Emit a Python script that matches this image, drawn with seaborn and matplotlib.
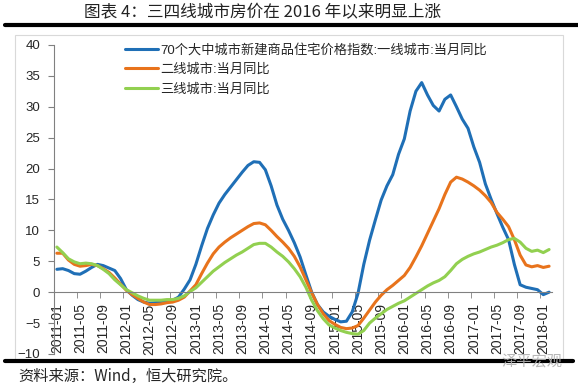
import pandas as pd
import seaborn as sns
import matplotlib.pyplot as plt
from matplotlib.lines import Line2D
from matplotlib.patches import Rectangle

# 2011-01 .. 2018-02
months = pd.date_range('2011-01', '2018-02', freq='MS').strftime('%Y-%m').tolist()

yi_xian = [3.7, 3.8, 3.5, 3.0, 2.9, 3.4, 4.0, 4.5, 4.3, 3.9, 3.5, 2.2,
           0.4, -0.5, -1.2, -1.6, -1.8, -1.7, -1.5, -1.4, -1.3, -0.8, 0.5, 2.0,
           4.5, 7.5, 10.3, 12.5, 14.4, 15.8, 17.0, 18.2, 19.4, 20.5, 21.1, 21.0,
           19.8, 17.2, 14.1, 11.8, 10.0, 8.0, 5.7, 2.8, 0.0, -2.0, -3.2, -3.9,
           -4.4, -4.8, -4.7, -3.2, -0.2, 4.5, 8.4, 11.7, 14.9, 17.2, 19.0, 22.3,
           24.8, 29.3, 32.5, 33.9, 31.9, 30.2, 29.3, 31.2, 31.9, 30.0, 28.0, 26.5,
           23.5, 21.0, 17.5, 15.0, 12.7, 10.5, 8.5, 4.5, 1.2, 0.8, 0.6, 0.4,
           -0.4, 0.0]
er_xian = [6.3, 6.3, 5.2, 4.5, 4.2, 4.3, 4.5, 4.3, 3.8, 3.2, 2.3, 1.3,
           0.3, -0.4, -1.0, -1.6, -2.0, -2.0, -1.9, -1.7, -1.6, -1.3, -0.8, 0.2,
           1.2, 3.0, 4.7, 6.2, 7.3, 8.1, 8.8, 9.4, 10.0, 10.6, 11.1, 11.2,
           10.9, 10.0, 9.0, 8.1, 7.1, 5.8, 4.1, 2.0, -0.1, -2.0, -3.5, -4.6,
           -5.2, -5.7, -5.9, -5.8, -5.4, -4.2, -2.9, -1.6, -0.5, 0.4, 1.1, 1.9,
           2.7, 4.0, 5.7, 7.5, 9.5, 11.5, 13.5, 15.8, 17.8, 18.6, 18.3, 17.8,
           17.2, 16.5, 15.6, 14.5, 12.9, 11.8, 10.6, 8.5, 6.0, 4.4, 4.1, 4.3,
           4.0, 4.2]
san_xian = [7.3, 6.4, 5.4, 4.9, 4.6, 4.7, 4.6, 4.3, 3.7, 3.0, 2.0, 1.2,
            0.4, -0.1, -0.6, -1.0, -1.3, -1.3, -1.3, -1.2, -1.2, -1.0, -0.6, 0.1,
            0.7, 1.6, 2.5, 3.4, 4.1, 4.8, 5.4, 6.0, 6.5, 7.1, 7.7, 7.9,
            7.9, 7.3, 6.5, 5.8, 4.9, 3.8, 2.5, 0.8, -1.3, -3.0, -4.3, -5.3,
            -5.8, -6.2, -6.5, -6.7, -6.8, -6.2, -5.0, -4.2, -3.5, -2.8, -2.3, -1.8,
            -1.4, -0.8, -0.2, 0.4, 1.0, 1.5, 1.9, 2.5, 3.5, 4.6, 5.3, 5.8,
            6.2, 6.5, 6.9, 7.3, 7.6, 8.0, 8.5, 8.7, 8.1, 7.1, 6.6, 6.8,
            6.4, 6.9]

names = ['70个大中城市新建商品住宅价格指数:一线城市:当月同比',
         '二线城市:当月同比',
         '三线城市:当月同比']
colors = ['#1f6fb6', '#e8731c', '#92d050']

df = pd.DataFrame({'idx': range(len(months)), names[0]: yi_xian,
                   names[1]: er_xian, names[2]: san_xian})
long = df.melt(id_vars='idx', var_name='series', value_name='val')

sns.set_style('white')
plt.rcParams['font.family'] = ['Liberation Sans', 'Noto Sans CJK SC', 'DejaVu Sans']

fig = plt.figure(figsize=(5.78, 3.87), dpi=100)
ax = fig.add_axes([0.0934, 0.0853, 0.955 - 0.0934, 0.884 - 0.0853])

sns.lineplot(data=long, x='idx', y='val', hue='series', hue_order=names,
             palette=colors, linewidth=2.2, ax=ax, legend=False)

ax.set_xlim(-0.5, len(months) - 0.5)
ax.set_ylim(-10, 40)
ax.set_yticks(range(-10, 41, 5))
ax.set_xlabel('')
ax.set_ylabel('')

tick_pos = list(range(0, len(months), 4))
ax.set_xticks(tick_pos)
ax.set_xticklabels([months[i] for i in tick_pos], fontsize=9)
ax.set_xticks([p - 0.5 for p in tick_pos], minor=True)
ax.tick_params(axis='x', which='major', length=0, pad=8, labelrotation=90)
ax.tick_params(axis='x', which='minor', length=4, direction='out', color='#808080', bottom=True)
ax.tick_params(axis='y', length=4, direction='out', color='#808080', pad=6, labelsize=9.5, left=True)

for s in ['top', 'right']:
    ax.spines[s].set_visible(False)
ax.spines['bottom'].set_position(('data', 0))
ax.spines['left'].set_color('#808080')
ax.spines['bottom'].set_color('#808080')
ax.spines['left'].set_linewidth(0.8)
ax.spines['bottom'].set_linewidth(0.8)

handles = [Line2D([], [], color=c, linewidth=2.2) for c in colors]
ax.legend(handles, names, loc='upper left', bbox_to_anchor=(0.205, 0.905),
          bbox_transform=fig.transFigure, frameon=False, fontsize=9.5,
          handlelength=2.5, handletextpad=0.15, labelspacing=0.55, borderpad=0)

# frame and page decorations
fig.add_artist(Rectangle((0.026, 0.07), 0.948, 0.84, transform=fig.transFigure,
                         fill=False, edgecolor='#d9d9d9', linewidth=0.8))
fig.add_artist(Line2D([0.0087, 1.0], [0.935, 0.935], transform=fig.transFigure,
                      color='black', linewidth=3))
fig.add_artist(Line2D([0.0087, 0.991], [0.067, 0.067], transform=fig.transFigure,
                      color='black', linewidth=3))

fig.text(0.454, 0.966, '图表 4：三四线城市房价在 2016 年以来明显上涨',
         ha='center', va='center', fontsize=12,
         family=['Noto Sans CJK SC', 'DejaVu Sans'], color='#222222')
fig.text(0.031, 0.028, '资料来源：Wind，恒大研究院。', ha='left', va='center',
         fontsize=11, style='italic', family=['Noto Sans CJK SC', 'DejaVu Sans'])
fig.text(0.92, 0.064, '泽平宏观', ha='center', va='center', fontsize=11,
         family=['Noto Sans CJK SC'], color='#b0b0b0', alpha=0.9)

fig.savefig('out.png', dpi=100)
